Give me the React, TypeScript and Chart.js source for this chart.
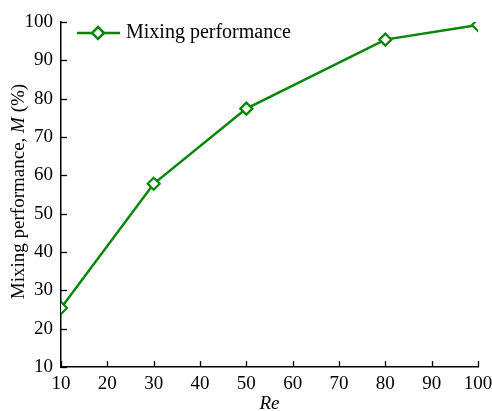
import React, { useEffect, useRef } from "react";
import { Chart, registerables } from "chart.js";

Chart.register(...registerables);

const reValues = [10, 30, 50, 80, 100];
const mixingPerformance = [25.4, 57.8, 77.4, 95.4, 99.2];
const xTicks = [10, 20, 30, 40, 50, 60, 70, 80, 90, 100];
const yTicks = [10, 20, 30, 40, 50, 60, 70, 80, 90, 100];
const seriesLabel = "Mixing performance";
const xTitle = "Re";
const yTitleParts = [
  { text: "Mixing performance, ", italic: false },
  { text: "M", italic: true },
  { text: " (%)", italic: false },
];

const GREEN = "#078507";
const FONT = "'Liberation Serif', 'Times New Roman', serif";

const decorPlugin = {
  id: "decor",
  afterDraw(chart: any) {
    const ctx = chart.ctx;
    const xs = chart.scales.x;
    const ys = chart.scales.y;
    const area = chart.chartArea;
    ctx.save();
    // inward ticks
    ctx.strokeStyle = "#000";
    ctx.lineWidth = 1.3;
    xs.ticks.forEach((t: any) => {
      const px = Math.round(xs.getPixelForValue(t.value)) + 0.5;
      ctx.beginPath();
      ctx.moveTo(px, area.bottom);
      ctx.lineTo(px, area.bottom - 6);
      ctx.stroke();
    });
    ys.ticks.forEach((t: any) => {
      const py = Math.round(ys.getPixelForValue(t.value)) + 0.5;
      ctx.beginPath();
      ctx.moveTo(area.left, py);
      ctx.lineTo(area.left + 6, py);
      ctx.stroke();
    });
    // y title with mixed fonts
    const size = 19;
    const fonts = yTitleParts.map((p) => (p.italic ? "italic " : "") + size + "px " + FONT);
    let total = 0;
    const widths = yTitleParts.map((p, i) => {
      ctx.font = fonts[i];
      const w = ctx.measureText(p.text).width;
      total += w;
      return w;
    });
    const cy = (area.top + area.bottom) / 2 - 3;
    ctx.translate(19, cy);
    ctx.rotate(-Math.PI / 2);
    ctx.fillStyle = "#000";
    ctx.textBaseline = "middle";
    ctx.textAlign = "left";
    let x = -total / 2;
    yTitleParts.forEach((p, i) => {
      ctx.font = fonts[i];
      ctx.fillText(p.text, x, 0);
      x += widths[i];
    });
    ctx.setTransform(1, 0, 0, 1, 0, 0);
    // legend
    const ly = 33;
    ctx.strokeStyle = GREEN;
    ctx.lineWidth = 2.5;
    ctx.beginPath();
    ctx.moveTo(77, ly);
    ctx.lineTo(120, ly);
    ctx.stroke();
    const r = 6;
    ctx.fillStyle = "#fff";
    ctx.beginPath();
    ctx.moveTo(98, ly - r);
    ctx.lineTo(98 + r, ly);
    ctx.lineTo(98, ly + r);
    ctx.lineTo(98 - r, ly);
    ctx.closePath();
    ctx.fill();
    ctx.stroke();
    ctx.fillStyle = "#000";
    ctx.font = "20px " + FONT;
    ctx.textBaseline = "middle";
    ctx.fillText(chart.data.datasets[0].label, 126, ly);
    ctx.restore();
  },
};

export default function App() {
  const ref = useRef<HTMLCanvasElement>(null);
  useEffect(() => {
    const chart = new Chart(ref.current!, {
      type: "line",
      data: {
        datasets: [
          {
            label: seriesLabel,
            data: reValues.map((x, i) => ({ x, y: mixingPerformance[i] })),
            borderColor: GREEN,
            backgroundColor: "#fff",
            borderWidth: 2.5,
            pointStyle: "rectRot",
            pointRadius: 6,
            pointBorderWidth: 2.2,
            pointBackgroundColor: "#fff",
            pointBorderColor: GREEN,
            tension: 0,
          },
        ],
      },
      options: {
        animation: false,
        responsive: false,
        events: [],
        layout: { padding: { top: 22, right: 14, left: 0, bottom: 0 } },
        plugins: { legend: { display: false }, tooltip: { enabled: false } },
        scales: {
          x: {
            type: "linear",
            min: 10,
            max: 100,
            afterBuildTicks: (s: any) => {
              s.ticks = xTicks.map((v) => ({ value: v }));
            },
            afterFit: (s: any) => {
              s.height = 44;
              s.paddingLeft = 0;
              s.paddingRight = 0;
            },
            grid: { display: false, drawTicks: false },
            border: { display: true, color: "#000", width: 1.5 },
            ticks: { color: "#000", font: { family: FONT, size: 19 }, padding: 6, maxRotation: 0 },
            title: {
              display: true,
              text: xTitle,
              color: "#000",
              font: { family: FONT, size: 19, style: "italic" },
              padding: { top: 3, bottom: -4 },
            },
          },
          y: {
            type: "linear",
            min: 10,
            max: 100,
            afterBuildTicks: (s: any) => {
              s.ticks = yTicks.map((v) => ({ value: v }));
            },
            afterFit: (s: any) => {
              s.width = 61;
              s.paddingTop = 0;
              s.paddingBottom = 0;
            },
            grid: { display: false, drawTicks: false },
            border: { display: true, color: "#000", width: 1.5 },
            ticks: { color: "#000", font: { family: FONT, size: 19 }, padding: 8 },
          },
        },
      },
      plugins: [decorPlugin],
    });
    return () => chart.destroy();
  }, []);
  return (
    <div style={{ position: "fixed", left: 0, top: 0, width: 492, height: 411, background: "#fff" }}>
      <canvas ref={ref} width={492} height={411} style={{ width: 492, height: 411 }} />
    </div>
  );
}
